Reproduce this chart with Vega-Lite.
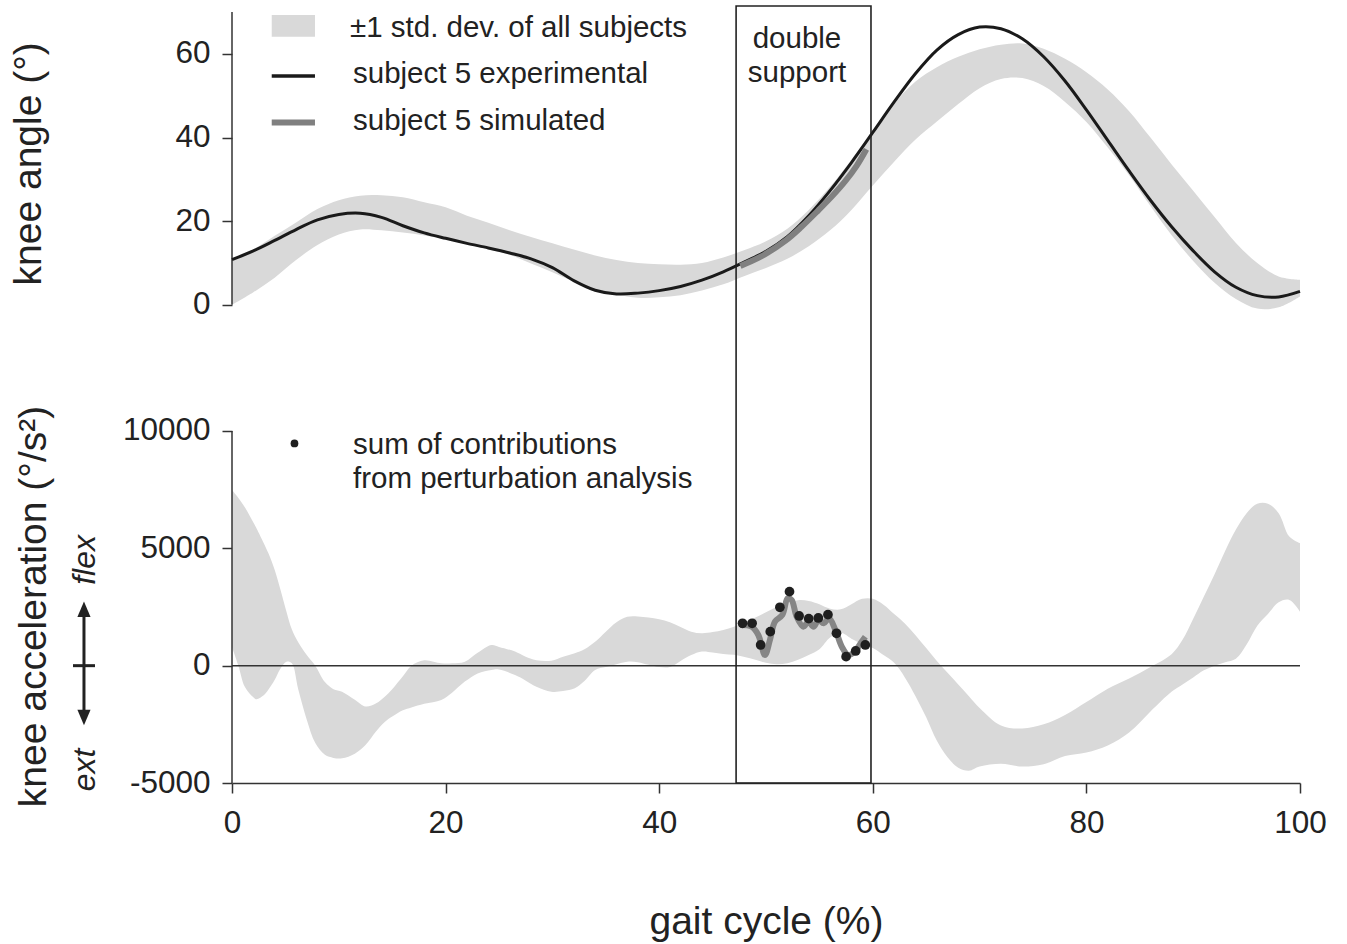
{
  "$schema": "https://vega.github.io/schema/vega-lite/v6.json",
  "width": 1068,
  "height": 771,
  "autosize": "none",
  "padding": {"left": 232, "top": 12, "right": 47, "bottom": 161},
  "background": "#ffffff",
  "config": {
    "view": {"stroke": null},
    "font": "Liberation Sans",
    "axis": {
      "labelFont": "Liberation Sans", "titleFont": "Liberation Sans", "grid": false,
      "labelFontSize": 31.5, "labelColor": "#222222", "titleFontSize": 39, "titleFontWeight": "normal",
      "titleColor": "#222222", "tickColor": "#333333", "tickWidth": 1.5, "tickSize": 10,
      "domainColor": "#333333", "domainWidth": 1.5, "labelFlush": false, "labelOverlap": false
    },
    "text": {"font": "Liberation Sans", "color": "#222222"}
  },
  "datasets": {
    "topband": [
      {"x":0,"y":10.5,"y2":0},{"x":2,"y":13.2,"y2":3.0},{"x":4,"y":16.5,"y2":6.5},{"x":6,"y":19.7,"y2":10.7},
      {"x":8,"y":22.9,"y2":14.3},{"x":10,"y":25.0,"y2":16.8},{"x":12,"y":26.1,"y2":18.0},{"x":14,"y":26.2,"y2":17.8},
      {"x":16,"y":25.7,"y2":17.3},{"x":18,"y":24.5,"y2":16.6},{"x":20,"y":23.3,"y2":15.7},{"x":22,"y":21.3,"y2":14.5},
      {"x":24,"y":19.6,"y2":13.3},{"x":26,"y":17.8,"y2":12.0},{"x":28,"y":16.2,"y2":9.9},{"x":30,"y":14.7,"y2":7.8},
      {"x":32,"y":13.2,"y2":5.6},{"x":34,"y":11.8,"y2":3.7},{"x":36,"y":10.7,"y2":2.5},{"x":38,"y":10.0,"y2":1.7},
      {"x":40,"y":9.7,"y2":1.8},{"x":42,"y":9.6,"y2":2.3},{"x":44,"y":10.0,"y2":3.4},{"x":46,"y":11.3,"y2":4.9},
      {"x":48,"y":13.1,"y2":6.9},{"x":50,"y":15.2,"y2":8.8},{"x":52,"y":18.2,"y2":11.0},{"x":54,"y":22.7,"y2":14.0},
      {"x":56,"y":28.2,"y2":17.8},{"x":58,"y":34.7,"y2":22.7},{"x":60,"y":41.6,"y2":28.5},{"x":62,"y":48.2,"y2":34.2},
      {"x":64,"y":53.4,"y2":39.5},{"x":66,"y":56.8,"y2":43.8},{"x":68,"y":59.3,"y2":48.0},{"x":70,"y":61.1,"y2":51.8},
      {"x":72,"y":62.2,"y2":54.0},{"x":74,"y":62.5,"y2":54.2},{"x":76,"y":61.2,"y2":52.3},{"x":78,"y":58.8,"y2":48.5},
      {"x":80,"y":55.6,"y2":43.7},{"x":82,"y":51.5,"y2":37.6},{"x":84,"y":46.3,"y2":31.0},{"x":86,"y":40.0,"y2":23.6},
      {"x":88,"y":33.5,"y2":16.6},{"x":90,"y":27.3,"y2":10.5},{"x":92,"y":21.0,"y2":5.3},{"x":94,"y":14.8,"y2":1.4},
      {"x":96,"y":10.0,"y2":-0.9},{"x":98,"y":6.8,"y2":-0.6},{"x":100,"y":6.0,"y2":2.0}
    ],
    "topline": [
      {"x":0,"y":10.8},{"x":2,"y":12.9},{"x":4,"y":15.4},{"x":6,"y":18.0},{"x":8,"y":20.3},{"x":10,"y":21.6},
      {"x":12,"y":21.9},{"x":14,"y":20.9},{"x":16,"y":18.9},{"x":18,"y":17.2},{"x":20,"y":15.9},{"x":22,"y":14.7},
      {"x":24,"y":13.6},{"x":26,"y":12.4},{"x":28,"y":11.0},{"x":30,"y":8.9},{"x":32,"y":5.8},{"x":34,"y":3.5},
      {"x":36,"y":2.6},{"x":38,"y":2.8},{"x":40,"y":3.4},{"x":42,"y":4.4},{"x":44,"y":5.9},{"x":46,"y":7.9},
      {"x":48,"y":10.3},{"x":50,"y":12.8},{"x":52,"y":16.3},{"x":54,"y":21.3},{"x":56,"y":27.3},{"x":58,"y":34.0},
      {"x":60,"y":41.2},{"x":62,"y":48.5},{"x":64,"y":55.3},{"x":66,"y":60.9},{"x":68,"y":64.6},{"x":70,"y":66.4},
      {"x":72,"y":66.0},{"x":74,"y":63.6},{"x":76,"y":59.3},{"x":78,"y":53.5},{"x":80,"y":46.6},{"x":82,"y":39.3},
      {"x":84,"y":32.0},{"x":86,"y":25.0},{"x":88,"y":18.6},{"x":90,"y":12.9},{"x":92,"y":7.9},{"x":94,"y":4.2},
      {"x":96,"y":2.2},{"x":98,"y":1.9},{"x":100,"y":3.2}
    ],
    "topsim": [
      {"x":47.6,"y":9.3},{"x":49.5,"y":11.5},{"x":51.8,"y":15.3},{"x":53.3,"y":18.6},{"x":54.9,"y":22.6},
      {"x":56.2,"y":26.0},{"x":57.4,"y":29.5},{"x":58.5,"y":33.3},{"x":59.4,"y":37.2}
    ],
    "topaxis": [{"x":0,"y":0,"y2":70}],
    "toppatch": [{"x":3.72,"x2":7.77,"y":69.28,"y2":64.10}],
    "topkeyblack": [{"x":3.72,"x2":7.77,"y":54.70}],
    "topkeygray": [{"x":3.72,"x2":7.77,"y":43.59}],
    "toptext": [
      {"x":11.05,"y":64.10,"t":"±1 std. dev. of all subjects"},
      {"x":11.33,"y":52.91,"t":"subject 5 experimental"},
      {"x":11.33,"y":41.79,"t":"subject 5 simulated"}
    ],
    "dstext": [{"x":52.9,"y":61.32,"t":"double"},{"x":52.9,"y":53.34,"t":"support"}],
    "botband": [
      {"x":0,"y":7487,"y2":800},{"x":0.6,"y":7150,"y2":0},{"x":1.2,"y":6750,"y2":-900},{"x":2,"y":6100,"y2":-1350},
      {"x":2.3,"y":5850,"y2":-1430},{"x":3,"y":5200,"y2":-1250},{"x":3.4,"y":4800,"y2":-1030},{"x":4,"y":4080,"y2":-600},
      {"x":4.5,"y":3300,"y2":-150},{"x":5.1,"y":2300,"y2":170},{"x":5.6,"y":1550,"y2":100},{"x":6.2,"y":1000,"y2":-1000},
      {"x":7,"y":450,"y2":-2300},{"x":7.8,"y":0,"y2":-3300},{"x":8.7,"y":-700,"y2":-3800},{"x":9.5,"y":-1000,"y2":-3930},
      {"x":10.3,"y":-1110,"y2":-3950},{"x":11.5,"y":-1450,"y2":-3750},{"x":12.5,"y":-1740,"y2":-3380},{"x":13.5,"y":-1600,"y2":-2800},
      {"x":14.3,"y":-1320,"y2":-2400},{"x":15,"y":-1000,"y2":-2170},{"x":16,"y":-450,"y2":-1900},{"x":16.8,"y":0,"y2":-1780},
      {"x":18,"y":230,"y2":-1620},{"x":19.6,"y":100,"y2":-1460},{"x":20.6,"y":100,"y2":-1150},{"x":21.8,"y":170,"y2":-680},
      {"x":23,"y":550,"y2":-330},{"x":24.3,"y":880,"y2":-180},{"x":25,"y":800,"y2":-160},{"x":26.5,"y":600,"y2":-400},
      {"x":27.4,"y":400,"y2":-610},{"x":28.5,"y":230,"y2":-900},{"x":29.9,"y":210,"y2":-1110},{"x":31,"y":380,"y2":-1080},
      {"x":32.1,"y":530,"y2":-960},{"x":33,"y":700,"y2":-650},{"x":34,"y":1020,"y2":-180},{"x":35,"y":1450,"y2":-60},
      {"x":36,"y":1850,"y2":60},{"x":37,"y":2080,"y2":170},{"x":38,"y":2100,"y2":150},{"x":39,"y":2050,"y2":40},
      {"x":40,"y":1980,"y2":-60},{"x":41,"y":1850,"y2":-60},{"x":42,"y":1650,"y2":200},{"x":43,"y":1450,"y2":450},
      {"x":44,"y":1380,"y2":600},{"x":45,"y":1430,"y2":560},{"x":46,"y":1520,"y2":500},{"x":47,"y":1660,"y2":460},
      {"x":48,"y":1850,"y2":370},{"x":49,"y":2050,"y2":250},{"x":50,"y":2280,"y2":120},{"x":51,"y":2500,"y2":60},
      {"x":52,"y":2680,"y2":100},{"x":53,"y":2790,"y2":250},{"x":54,"y":2760,"y2":450},{"x":55,"y":2620,"y2":700},
      {"x":56,"y":2430,"y2":1200},{"x":57,"y":2400,"y2":1400},{"x":58,"y":2620,"y2":1150},{"x":59,"y":2850,"y2":920},
      {"x":60,"y":2850,"y2":750},{"x":61,"y":2600,"y2":450},{"x":62,"y":2200,"y2":120},{"x":63,"y":1800,"y2":-500},
      {"x":64,"y":1300,"y2":-1300},{"x":65,"y":750,"y2":-2200},{"x":66,"y":200,"y2":-3200},{"x":67,"y":-300,"y2":-3900},
      {"x":68,"y":-800,"y2":-4350},{"x":69,"y":-1300,"y2":-4480},{"x":70,"y":-1800,"y2":-4300},{"x":72,"y":-2550,"y2":-4180},
      {"x":74,"y":-2680,"y2":-4300},{"x":76,"y":-2500,"y2":-4200},{"x":78,"y":-2100,"y2":-3850},{"x":80,"y":-1550,"y2":-3700},
      {"x":82,"y":-980,"y2":-3400},{"x":84,"y":-550,"y2":-2850},{"x":86,"y":-60,"y2":-1950},{"x":88,"y":500,"y2":-1100},
      {"x":89,"y":1100,"y2":-800},{"x":90,"y":2000,"y2":-500},{"x":91,"y":2950,"y2":-200},{"x":92,"y":3900,"y2":0},
      {"x":93,"y":4900,"y2":150},{"x":94,"y":5800,"y2":300},{"x":95,"y":6500,"y2":900},{"x":96,"y":6900,"y2":1700},
      {"x":97,"y":6900,"y2":2200},{"x":98,"y":6500,"y2":2700},{"x":99,"y":5500,"y2":2800},{"x":100,"y":5215,"y2":2301}
    ],
    "botsim": [
      {"x":47.57,"y":1734},{"x":48.66,"y":1662},{"x":49.28,"y":1308},{"x":49.9,"y":456},{"x":50.37,"y":1095},
      {"x":50.84,"y":1875},{"x":51.53,"y":2160},{"x":52.03,"y":2870},{"x":52.4,"y":2800},{"x":52.87,"y":2088},
      {"x":53.5,"y":1662},{"x":53.97,"y":1875},{"x":54.46,"y":1662},{"x":54.9,"y":1947},{"x":55.4,"y":1807},
      {"x":55.9,"y":2020},{"x":56.5,"y":1521},{"x":57.1,"y":810},{"x":57.7,"y":456},{"x":58.3,"y":597},
      {"x":58.96,"y":1023},{"x":59.3,"y":1236}
    ],
    "dots": [
      {"x":47.8,"y":1807},{"x":48.7,"y":1807},{"x":49.5,"y":882},{"x":50.4,"y":1449},{"x":51.3,"y":2488},
      {"x":52.2,"y":3153},{"x":53.1,"y":2118},{"x":54.0,"y":2003},{"x":54.9,"y":2032},{"x":55.8,"y":2173},
      {"x":56.6,"y":1381},{"x":57.5,"y":383},{"x":58.4,"y":626},{"x":59.3,"y":882}
    ],
    "botaxis": [{"x":0,"y":-5000,"y2":10000}],
    "zeroline": [{"x":0,"x2":100,"y":0}],
    "box": [{"x":47.2,"x2":59.83,"y":28110,"y2":-5000}],
    "keydot": [{"x":5.85,"y":9468}],
    "bottext": [
      {"x":11.33,"y":8999,"t":"sum of contributions"},
      {"x":11.33,"y":7551,"t":"from perturbation analysis"}
    ],
    "arrowshaft": [{"x":-13.86,"y":-2300,"y2":2450}],
    "arrowtick": [{"x":-14.89,"x2":-12.83,"y":0}],
    "arrowup": [{"x":-13.86,"y":2407}],
    "arrowdown": [{"x":-13.86,"y":-2207}],
    "flexext": [{"x":-12.83,"y":4504,"t":"flex"},{"x":-12.83,"y":-4444,"t":"ext"}]
  },
  "encoding": {
    "x": {
      "field": "x", "type": "quantitative",
      "scale": {"domain": [0, 100], "nice": false, "zero": false},
      "axis": {
        "values": [0, 20, 40, 60, 80, 100], "title": "gait cycle (%)", "labelPadding": 14,
        "titleY": 150, "titleBaseline": "alphabetic", "labelExpr": "'' + datum.value"
      }
    }
  },
  "layer": [
    {
      "encoding": {
        "y": {
          "field": "y", "type": "quantitative",
          "scale": {"domain": [-114.3, 70], "nice": false, "zero": false},
          "axis": {
            "orient": "left", "values": [0, 20, 40, 60], "domain": false, "labelPadding": 12,
            "title": "knee angle (°)", "titleAngle": 270, "titleX": -192, "titleY": 151.3,
            "titleAlign": "center", "titleBaseline": "alphabetic", "labelExpr": "'' + datum.value"
          }
        }
      },
      "layer": [
        {"data": {"name": "topband"}, "mark": {"type": "area", "color": "#d9d9d9", "interpolate": "catmull-rom"}, "encoding": {"y2": {"field": "y2"}}},
        {"data": {"name": "topaxis"}, "mark": {"type": "rule", "color": "#333333", "strokeWidth": 1.5}, "encoding": {"y2": {"field": "y2"}}},
        {"data": {"name": "topline"}, "mark": {"type": "line", "color": "#1a1a1a", "strokeWidth": 3, "interpolate": "catmull-rom"}, "encoding": {}},
        {"data": {"name": "topsim"}, "mark": {"type": "line", "color": "#808080", "strokeWidth": 6, "interpolate": "catmull-rom", "strokeCap": "butt"}, "encoding": {}},
        {"data": {"name": "toppatch"}, "mark": {"type": "rect", "color": "#d9d9d9"}, "encoding": {"x2": {"field": "x2"}, "y2": {"field": "y2"}}},
        {"data": {"name": "topkeyblack"}, "mark": {"type": "rule", "color": "#1a1a1a", "strokeWidth": 3.5}, "encoding": {"x2": {"field": "x2"}}},
        {"data": {"name": "topkeygray"}, "mark": {"type": "rule", "color": "#808080", "strokeWidth": 6}, "encoding": {"x2": {"field": "x2"}}},
        {"data": {"name": "toptext"}, "mark": {"type": "text", "align": "left", "baseline": "alphabetic", "fontSize": 29.5}, "encoding": {"text": {"field": "t"}}},
        {"data": {"name": "dstext"}, "mark": {"type": "text", "align": "center", "baseline": "alphabetic", "fontSize": 29.5}, "encoding": {"text": {"field": "t"}}}
      ]
    },
    {
      "encoding": {
        "y": {
          "field": "y", "type": "quantitative",
          "scale": {"domain": [-5000, 27855], "nice": false, "zero": false},
          "axis": {
            "orient": "left", "values": [-5000, 0, 5000, 10000], "domain": false, "labelPadding": 12,
            "title": "knee acceleration (°/s²)", "titleAngle": 270, "titleX": -187, "titleY": 594,
            "titleAlign": "center", "titleBaseline": "alphabetic", "labelExpr": "'' + datum.value"
          }
        }
      },
      "layer": [
        {"data": {"name": "botband"}, "mark": {"type": "area", "color": "#d9d9d9", "interpolate": "catmull-rom"}, "encoding": {"y2": {"field": "y2"}}},
        {"data": {"name": "zeroline"}, "mark": {"type": "rule", "color": "#333333", "strokeWidth": 1.5}, "encoding": {"x2": {"field": "x2"}}},
        {"data": {"name": "botaxis"}, "mark": {"type": "rule", "color": "#333333", "strokeWidth": 1.5}, "encoding": {"y2": {"field": "y2"}}},
        {"data": {"name": "box"}, "mark": {"type": "rect", "fillOpacity": 0, "stroke": "#222222", "strokeWidth": 1.6}, "encoding": {"x2": {"field": "x2"}, "y2": {"field": "y2"}}},
        {"data": {"name": "botsim"}, "mark": {"type": "line", "color": "#858585", "strokeWidth": 6, "interpolate": "catmull-rom", "strokeCap": "butt"}, "encoding": {}},
        {"data": {"name": "dots"}, "mark": {"type": "point", "filled": true, "opacity": 1, "color": "#1f1f1f", "size": 95, "shape": "circle"}, "encoding": {}},
        {"data": {"name": "keydot"}, "mark": {"type": "point", "filled": true, "opacity": 1, "color": "#1f1f1f", "size": 60, "shape": "circle"}, "encoding": {}},
        {"data": {"name": "bottext"}, "mark": {"type": "text", "align": "left", "baseline": "alphabetic", "fontSize": 29.5}, "encoding": {"text": {"field": "t"}}},
        {"data": {"name": "arrowshaft"}, "mark": {"type": "rule", "color": "#222222", "strokeWidth": 3}, "encoding": {"y2": {"field": "y2"}}},
        {"data": {"name": "arrowtick"}, "mark": {"type": "rule", "color": "#222222", "strokeWidth": 3}, "encoding": {"x2": {"field": "x2"}}},
        {"data": {"name": "arrowup"}, "mark": {"type": "point", "filled": true, "opacity": 1, "color": "#222222", "size": 240, "shape": "M-0.85,1L0,-1L0.85,1Z"}, "encoding": {}},
        {"data": {"name": "arrowdown"}, "mark": {"type": "point", "filled": true, "opacity": 1, "color": "#222222", "size": 240, "shape": "M-0.85,-1L0,1L0.85,-1Z"}, "encoding": {}},
        {"data": {"name": "flexext"}, "mark": {"type": "text", "align": "center", "baseline": "alphabetic", "fontSize": 32, "fontStyle": "italic", "angle": 270}, "encoding": {"text": {"field": "t"}}}
      ]
    }
  ],
  "resolve": {"scale": {"y": "independent"}, "axis": {"y": "independent"}}
}
